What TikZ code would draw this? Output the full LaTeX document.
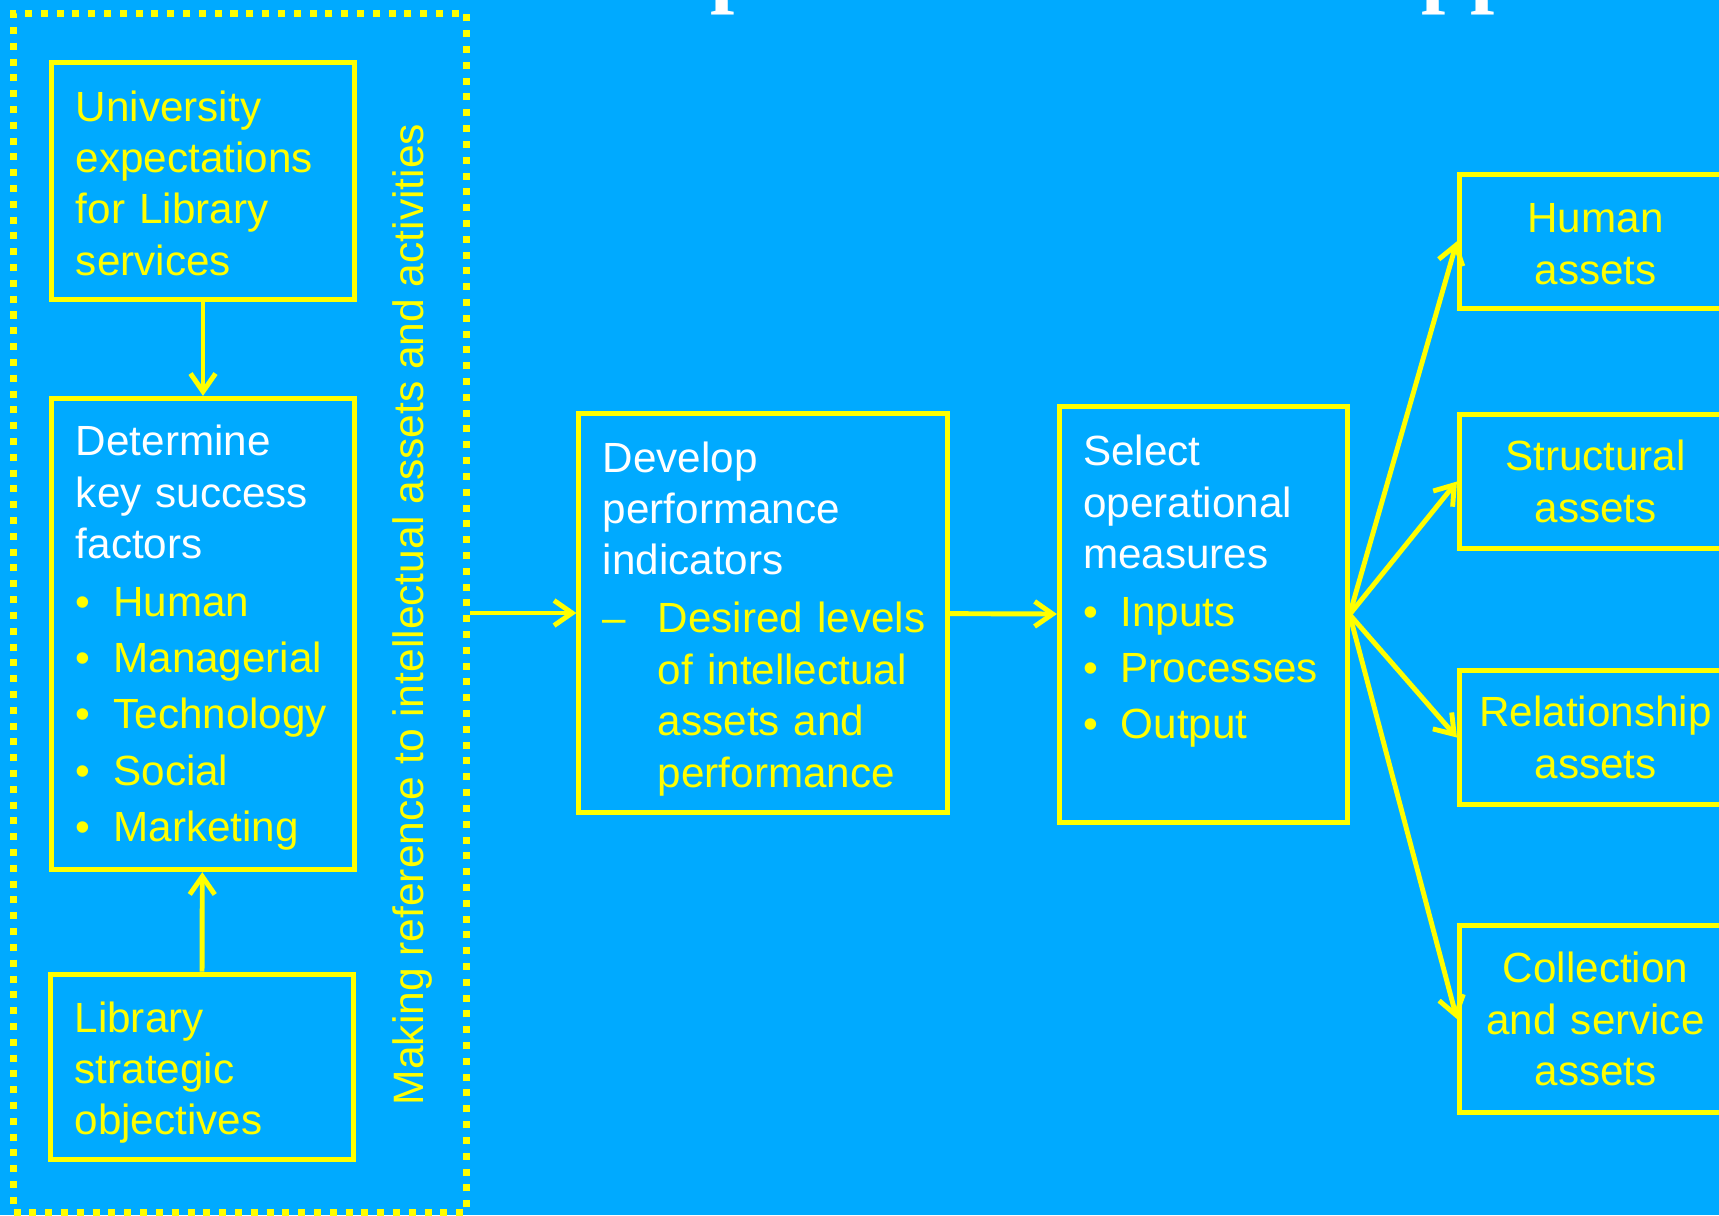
\documentclass[tikz,border=0pt]{standalone}
\usepackage{fontspec}
\setmainfont{Liberation Sans}
\newfontfamily\titlefont{Liberation Serif}
\usetikzlibrary{arrows.meta}
\definecolor{slideblue}{RGB}{0,170,255}
\definecolor{slideyellow}{RGB}{255,255,0}
\newcommand{\bulletitem}[1]{{\color{slideyellow}\makebox[0.375cm][l]{\textbullet}\mbox{#1}}}
\newcommand{\dashitem}[1]{{\color{slideyellow}\makebox[0.55cm][l]{\textendash}\mbox{#1}}}
\newcommand{\dashcont}[1]{{\color{slideyellow}\hspace*{0.55cm}\mbox{#1}}}
\newcommand{\topgap}[1]{\rule{0pt}{#1}}
\hfuzz=20pt

\begin{document}
\begin{tikzpicture}[x=0.01cm,y=-0.01cm]

%
% Styles
%
\tikzstyle{box}      = [draw=slideyellow,line width=1.42pt,inner sep=0pt,align=left,font=\fontsize{12}{14.6}\selectfont]
\tikzstyle{assetbox} = [box,align=center,text=slideyellow,text width=2.6cm,minimum width=2.72cm]
\tikzstyle{framebox} = [draw=slideyellow,line width=0.07cm,dash pattern=on 0.07cm off 0.088cm]
\tikzstyle{edge}     = [-{Straight Barb[length=0.18cm,width=0.25cm]},draw=slideyellow,line width=1.4pt]

\useasboundingbox (0,0) rectangle (1719,1215);
\clip (0,0) rectangle (1719,1215);
\fill[slideblue] (0,0) rectangle (1719,1215);

% what is left of the title
\node[anchor=base west,inner sep=0pt,text=white,font=\titlefont\bfseries\fontsize{24.75}{30}\selectfont] (titlep)  at ( 710,-3) {p};
\node[anchor=base west,inner sep=0pt,text=white,font=\titlefont\bfseries\fontsize{24.75}{30}\selectfont] (titlepp) at (1421,-3) {pp};

\node[framebox,minimum width=4.53cm,minimum height=11.98cm] (frame) at (240.25,613) {};

\node[box,text=slideyellow,text width=2.54cm,minimum width=3.02cm,minimum height=2.37cm] (univ) at (203,180.75)
  {\topgap{0.35cm}University\\expectations\\for Library\\services};
\node[box,text=white,text width=2.54cm,minimum width=3.02cm,minimum height=4.71cm] (keyf) at (203,634)
  {\topgap{0.38cm}Determine\\key success\\factors\\[1.9pt]
   \bulletitem{Human}\\[1.4pt]\bulletitem{Managerial}\\[1.4pt]\bulletitem{Technology}\\[1.4pt]
   \bulletitem{Social}\\[1.4pt]\bulletitem{Marketing}};
\node[box,text=slideyellow,text width=2.54cm,minimum width=3.025cm,minimum height=1.855cm] (libobj) at (201.75,1067)
  {\topgap{0.42cm}Library\\strategic\\objectives};

\node[rotate=90,anchor=base,inner sep=0pt,text=slideyellow,font=\fontsize{12.1}{14.6}\selectfont] (making) at (423,614.5)
  {Making reference to intellectual assets and activities};

\node[box,text=white,text width=3.2cm,minimum width=3.68cm,minimum height=3.98cm] (devel) at (763,613)
  {\topgap{0.42cm}Develop\\performance\\indicators\\[1.9pt]
   \dashitem{Desired levels}\\\dashcont{of intellectual}\\\dashcont{assets and}\\\dashcont{performance}};
\node[box,text=white,text width=2.4cm,minimum width=2.875cm,minimum height=4.15cm] (select) at (1203.25,614.5)
  {Select\\operational\\measures\\[1.9pt]
   \bulletitem{Inputs}\\[1.4pt]\bulletitem{Processes}\\[1.4pt]\bulletitem{Output}\rule[-0.55cm]{0pt}{0.55cm}};

\node[assetbox,minimum height=1.335cm] (human)      at (1595.5,241.25) {\topgap{0.35cm}Human\\assets};
\node[assetbox,minimum height=1.33cm]  (structural) at (1595.5,481.5)  {Structural\\assets};
\node[assetbox,minimum height=1.33cm]  (relation)   at (1595.5,737.5)  {Relationship\\assets};
\node[assetbox,minimum height=1.86cm]  (collection) at (1595.5,1019)   {Collection\\and service\\assets};

\draw[edge] (univ) -- (keyf);
\draw[edge] (libobj) -- (keyf);
\draw[edge] (frame) -- (devel);
\draw[edge] (devel) -- (select);
\foreach \n in {human,structural,relation,collection}
  \draw[edge] (select.east) -- (\n.west);

\end{tikzpicture}
\end{document}
